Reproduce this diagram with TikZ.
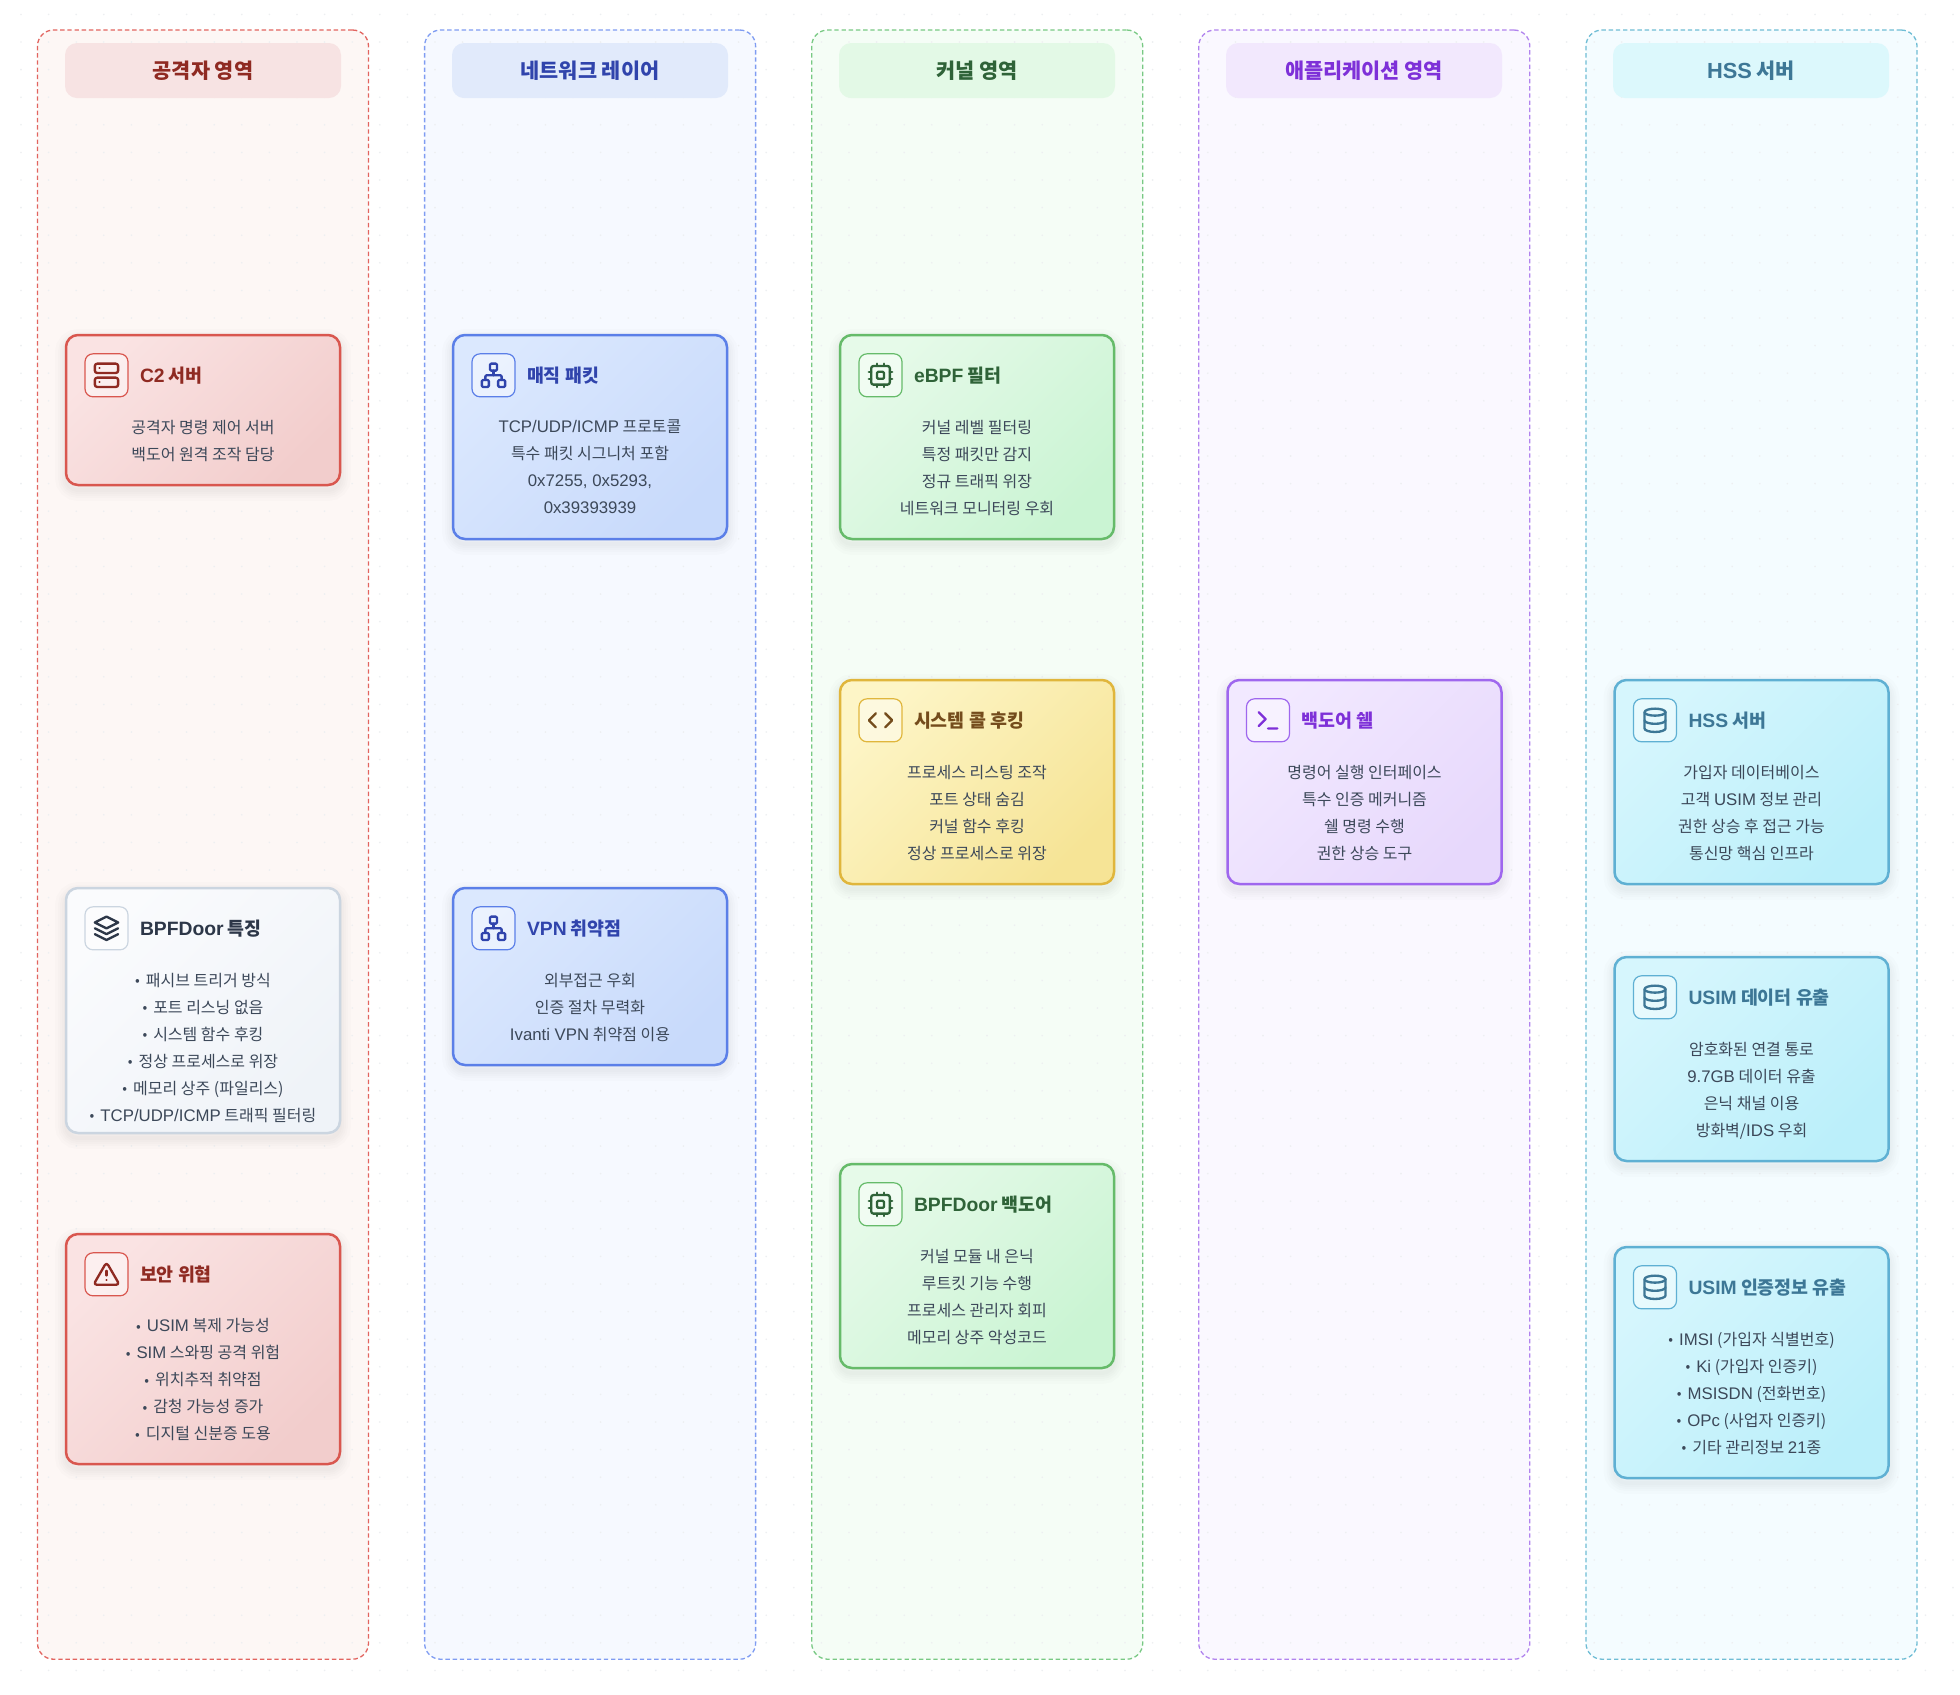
\documentclass[tikz,border=0pt]{standalone}
\usepackage{fontspec}
\setmainfont{Noto Sans CJK KR}
\newfontfamily\latn[Scale=1.05]{Liberation Sans}
\newcommand{\bu}{{\fontsize{7}{8}\selectfont\raisebox{.2pt}{•}}\hspace{1.2pt} }
\usetikzlibrary{positioning}
\pgfdeclarelayer{background layer}
\pgfsetlayers{background layer,main}
\definecolor{griddot}{HTML}{EDEFF1}
\definecolor{bodyink}{HTML}{3C4859}
\definecolor{redlane}{HTML}{E2645F}
\definecolor{redback}{HTML}{FDF7F5}
\definecolor{redhead}{HTML}{F7E3E3}
\definecolor{redline}{HTML}{D9574F}
\definecolor{redink}{HTML}{8F2A22}
\definecolor{redlight}{HTML}{FAE3E3}
\definecolor{reddark}{HTML}{F2CDCC}
\definecolor{bluelane}{HTML}{7F9CF2}
\definecolor{blueback}{HTML}{F6F9FF}
\definecolor{bluehead}{HTML}{E1EAFB}
\definecolor{blueline}{HTML}{5B7FE8}
\definecolor{blueink}{HTML}{3044AC}
\definecolor{bluelight}{HTML}{DBE8FE}
\definecolor{bluedark}{HTML}{C8DAFB}
\definecolor{greenlane}{HTML}{78C983}
\definecolor{greenback}{HTML}{F5FDF6}
\definecolor{greenhead}{HTML}{E3F9E6}
\definecolor{greenline}{HTML}{66BB6A}
\definecolor{greenink}{HTML}{2F6338}
\definecolor{greenlight}{HTML}{E6FAE9}
\definecolor{greendark}{HTML}{CAF4D3}
\definecolor{purplelane}{HTML}{B183EE}
\definecolor{purpleback}{HTML}{FAF8FF}
\definecolor{purplehead}{HTML}{F2E8FD}
\definecolor{purpleline}{HTML}{9F67EE}
\definecolor{purpleink}{HTML}{7E30D8}
\definecolor{purplelight}{HTML}{F2E9FF}
\definecolor{purpledark}{HTML}{E7D8FC}
\definecolor{teallane}{HTML}{6FBDD5}
\definecolor{tealback}{HTML}{F4FCFF}
\definecolor{tealhead}{HTML}{DCF8FC}
\definecolor{tealline}{HTML}{5FB0D3}
\definecolor{tealink}{HTML}{3D7796}
\definecolor{teallight}{HTML}{D6F6FD}
\definecolor{tealdark}{HTML}{BBEFFA}
\definecolor{yellowline}{HTML}{E0B63C}
\definecolor{yellowink}{HTML}{744C1C}
\definecolor{yellowlight}{HTML}{FDF5C6}
\definecolor{yellowdark}{HTML}{F6E496}
\definecolor{grayline}{HTML}{CBD5E0}
\definecolor{grayink}{HTML}{2D3748}
\definecolor{graylight}{HTML}{FAFBFD}
\definecolor{graydark}{HTML}{EFF3F8}
\tikzset{
  iconline/.style={x=.583pt,y=-.583pt,shift={(-12,-12)},line width=1.17pt,line cap=round,line join=round},
  servericon/.pic={
    \draw [iconline,rounded corners=1.17pt] (2,2) rectangle (22,10) (2,14) rectangle (22,22);
    \draw [iconline] (6,6) -- (6.01,6) (6,18) -- (6.01,18);
  },
  networkicon/.pic={
    \draw [iconline,rounded corners=.58pt] (16,16) rectangle (22,22) (2,16) rectangle (8,22) (9,2) rectangle (15,8);
    \draw [iconline,rounded corners=.58pt] (5,16) -- (5,12) -- (19,12) -- (19,16);
    \draw [iconline] (12,12) -- (12,8);
  },
  cpuicon/.pic={
    \draw [iconline,rounded corners=1.17pt] (4,4) rectangle (20,20);
    \draw [iconline,rounded corners=.58pt] (9,9) rectangle (15,15);
    \draw [iconline] (9,2) -- (9,4) (15,2) -- (15,4) (9,20) -- (9,22) (15,20) -- (15,22)
      (2,9) -- (4,9) (2,15) -- (4,15) (20,9) -- (22,9) (20,15) -- (22,15);
  },
  codeicon/.pic={
    \draw [iconline] (16,18) -- (22,12) -- (16,6) (8,6) -- (2,12) -- (8,18);
  },
  shellicon/.pic={
    \draw [iconline] (4,17) -- (10,11) -- (4,5) (12,19) -- (20,19);
  },
  dbicon/.pic={
    \draw [iconline] (12,5) ellipse [x radius=9,y radius=3];
    \draw [iconline] (3,5) -- (3,19) arc [start angle=180,end angle=0,x radius=9,y radius=3] -- (21,5);
    \draw [iconline] (3,12) arc [start angle=180,end angle=0,x radius=9,y radius=3];
  },
  layersicon/.pic={
    \draw [iconline] (12,2) -- (2,7) -- (12,12) -- (22,7) -- cycle;
    \draw [iconline] (2,17) -- (12,22) -- (22,17) (2,12) -- (12,17) -- (22,12);
  },
  alerticon/.pic={
    \draw [iconline,rounded corners=1.7pt] (12,1.6) -- (23.2,21) -- (.8,21) -- cycle;
    \draw [iconline] (12,9) -- (12,13) (12,17) -- (12.01,17);
  },
}
\begin{document}
\begin{tikzpicture}[x=.5pt,y=-.5pt]
\tikzstyle{lane}=[rectangle,rounded corners=8pt,line width=.65pt,dash pattern=on 2.2pt off 1.4pt,anchor=north west,minimum width=165.5pt,minimum height=814.6pt,outer sep=0pt]
\tikzstyle{headbox}=[rectangle,rounded corners=6pt,anchor=north west,minimum width=138pt,minimum height=27.5pt,outer sep=0pt,inner sep=0pt,font=\fontsize{10.4}{12}\selectfont\bfseries]
\tikzstyle{softshadow}=[preaction={draw=black,draw opacity=.012,line width=2pt,transform canvas={yshift=-2.5pt}},
  preaction={draw=black,draw opacity=.012,line width=4pt,transform canvas={yshift=-2.5pt}},
  preaction={draw=black,draw opacity=.012,line width=6pt,transform canvas={yshift=-2.5pt}},
  preaction={draw=black,draw opacity=.012,line width=8pt,transform canvas={yshift=-2.5pt}},
  preaction={draw=black,draw opacity=.01,line width=11pt,transform canvas={yshift=-2.5pt}}]
\tikzstyle{card}=[rectangle,rounded corners=6pt,line width=1.25pt,anchor=north west,minimum width=137pt,outer sep=0pt,softshadow]
\tikzstyle{redcard}=[card,draw=redline,top color=redlight,bottom color=reddark,shading angle=45]
\tikzstyle{bluecard}=[card,draw=blueline,top color=bluelight,bottom color=bluedark,shading angle=45]
\tikzstyle{greencard}=[card,draw=greenline,top color=greenlight,bottom color=greendark,shading angle=45]
\tikzstyle{yellowcard}=[card,draw=yellowline,top color=yellowlight,bottom color=yellowdark,shading angle=45]
\tikzstyle{purplecard}=[card,draw=purpleline,top color=purplelight,bottom color=purpledark,shading angle=45]
\tikzstyle{tealcard}=[card,draw=tealline,top color=teallight,bottom color=tealdark,shading angle=45]
\tikzstyle{graycard}=[card,draw=grayline,top color=graylight,bottom color=graydark,shading angle=45]
\tikzstyle{iconbox}=[rectangle,rounded corners=4pt,line width=.6pt,minimum size=21.5pt,inner sep=0pt,outer sep=0pt,fill=white,fill opacity=.45]
\tikzstyle{cardtitle}=[inner sep=0pt,outer sep=0pt,font=\fontsize{9.2}{11}\selectfont\bfseries]
\tikzstyle{cardtext}=[inner sep=0pt,outer sep=0pt,align=center,text=bodyink,font=\fontsize{8}{13.5}\selectfont,execute at begin node=\rule{0pt}{9pt}]
\tikzstyle{griddots}=[griddot,line width=.9pt,line cap=round,dash pattern=on 0pt off 13.8pt]

\useasboundingbox (0,0) rectangle (1960,1694);
\begin{pgfonlayer}{background layer}
\fill [white] (0,0) rectangle (1960,1694);
\node [lane,draw=redlane,fill=redback] at (37.5,30) (redcol) {};
\node [lane,draw=bluelane,fill=blueback] at (424.6,30) (bluecol) {};
\node [lane,draw=greenlane,fill=greenback] at (811.7,30) (greencol) {};
\node [lane,draw=purplelane,fill=purpleback] at (1198.8,30) (purplecol) {};
\node [lane,draw=teallane,fill=tealback] at (1586,30) (tealcol) {};
\foreach \j in {0,...,60} {\draw [griddots] (-6.6,14.4+27.6*\j) -- (1960,14.4+27.6*\j);}
\end{pgfonlayer}

\node [headbox,fill=redhead,text=redink] at (65,43) (redtop) {공격자 영역};
\node [headbox,fill=bluehead,text=blueink] at (452,43) (bluetop) {네트워크 레이어};
\node [headbox,fill=greenhead,text=greenink] at (839,43) (greentop) {커널 영역};
\node [headbox,fill=purplehead,text=purpleink] at (1226,43) (purpletop) {애플리케이션 영역};
\node [headbox,fill=tealhead,text=tealink] at (1613,43) (tealtop) {{\latn HSS} 서버};

% attacker
\node [redcard,minimum height=75pt] at (66,335) (c2) {};
\node [iconbox,draw=redline,below right=9.4pt and 9.5pt of c2.north west] (c2icon) {};
\pic [color=redink] at (c2icon) {servericon};
\node [cardtitle,text=redink,right=6pt of c2icon] (c2title) {{\latn C2} 서버};
\node [cardtext,below=42.5pt of c2.north] (c2text) {공격자 명령 제어 서버\\백도어 원격 조작 담당};

\node [graycard,minimum height=122.5pt] at (66,888) (trait) {};
\node [iconbox,draw=grayline,below right=9.4pt and 9.5pt of trait.north west] (traiticon) {};
\pic [color=grayink] at (traiticon) {layersicon};
\node [cardtitle,text=grayink,right=6pt of traiticon] (traittitle) {{\latn BPFDoor} 특징};
\node [cardtext,below=42.5pt of trait.north] (traittext) {\bu 패시브 트리거 방식\\\bu 포트 리스닝 없음\\\bu 시스템 함수 후킹\\\bu 정상 프로세스로 위장\\\bu 메모리 상주 (파일리스)\\\bu {\latn TCP/UDP/ICMP} 트래픽 필터링};

\node [redcard,minimum height=115pt] at (66,1234) (threat) {};
\node [iconbox,draw=redline,below right=9.4pt and 9.5pt of threat.north west] (threaticon) {};
\pic [color=redink] at (threaticon) {alerticon};
\node [cardtitle,text=redink,right=6pt of threaticon] (threattitle) {보안 위협};
\node [cardtext,below=42.2pt of threat.north] (threattext) {\bu {\latn USIM} 복제 가능성\\\bu {\latn SIM} 스와핑 공격 위험\\\bu 위치추적 취약점\\\bu 감청 가능성 증가\\\bu 디지털 신분증 도용};

% network
\node [bluecard,minimum height=102pt] at (453,335) (magic) {};
\node [iconbox,draw=blueline,below right=9.4pt and 9.5pt of magic.north west] (magicicon) {};
\pic [color=blueink] at (magicicon) {networkicon};
\node [cardtitle,text=blueink,right=6pt of magicicon] (magictitle) {매직 패킷};
\node [cardtext,below=42.5pt of magic.north] (magictext) {{\latn TCP/UDP/ICMP} 프로토콜\\특수 패킷 시그니처 포함\\{\latn 0x7255, 0x5293,}\\{\latn 0x39393939}};

\node [bluecard,minimum height=88.5pt] at (453,888) (vpn) {};
\node [iconbox,draw=blueline,below right=9.4pt and 9.5pt of vpn.north west] (vpnicon) {};
\pic [color=blueink] at (vpnicon) {networkicon};
\node [cardtitle,text=blueink,right=6pt of vpnicon] (vpntitle) {{\latn VPN} 취약점};
\node [cardtext,below=42.5pt of vpn.north] (vpntext) {외부접근 우회\\인증 절차 무력화\\{\latn Ivanti VPN} 취약점 이용};

% kernel
\node [greencard,minimum height=102pt] at (840,335) (ebpf) {};
\node [iconbox,draw=greenline,below right=9.4pt and 9.5pt of ebpf.north west] (ebpficon) {};
\pic [color=greenink] at (ebpficon) {cpuicon};
\node [cardtitle,text=greenink,right=6pt of ebpficon] (ebpftitle) {{\latn eBPF} 필터};
\node [cardtext,below=42.5pt of ebpf.north] (ebpftext) {커널 레벨 필터링\\특정 패킷만 감지\\정규 트래픽 위장\\네트워크 모니터링 우회};

\node [yellowcard,minimum height=102pt] at (840,680) (hook) {};
\node [iconbox,draw=yellowline,below right=9.4pt and 9.5pt of hook.north west] (hookicon) {};
\pic [color=yellowink] at (hookicon) {codeicon};
\node [cardtitle,text=yellowink,right=6pt of hookicon] (hooktitle) {시스템 콜 후킹};
\node [cardtext,below=42.5pt of hook.north] (hooktext) {프로세스 리스팅 조작\\포트 상태 숨김\\커널 함수 후킹\\정상 프로세스로 위장};

\node [greencard,minimum height=102pt] at (840,1164) (door) {};
\node [iconbox,draw=greenline,below right=9.4pt and 9.5pt of door.north west] (dooricon) {};
\pic [color=greenink] at (dooricon) {cpuicon};
\node [cardtitle,text=greenink,right=6pt of dooricon] (doortitle) {{\latn BPFDoor} 백도어};
\node [cardtext,below=42.5pt of door.north] (doortext) {커널 모듈 내 은닉\\루트킷 기능 수행\\프로세스 관리자 회피\\메모리 상주 악성코드};

% application
\node [purplecard,minimum height=102pt] at (1227.5,680) (shell) {};
\node [iconbox,draw=purpleline,below right=9.4pt and 9.5pt of shell.north west] (shellbox) {};
\pic [color=purpleink] at (shellbox) {shellicon};
\node [cardtitle,text=purpleink,right=6pt of shellbox] (shelltitle) {백도어 쉘};
\node [cardtext,below=42.5pt of shell.north] (shelltext) {명령어 실행 인터페이스\\특수 인증 메커니즘\\쉘 명령 수행\\권한 상승 도구};

% hss
\node [tealcard,minimum height=102pt] at (1614.5,680) (hss) {};
\node [iconbox,draw=tealline,below right=9.4pt and 9.5pt of hss.north west] (hssicon) {};
\pic [color=tealink] at (hssicon) {dbicon};
\node [cardtitle,text=tealink,right=6pt of hssicon] (hsstitle) {{\latn HSS} 서버};
\node [cardtext,below=42.5pt of hss.north] (hsstext) {가입자 데이터베이스\\고객 {\latn USIM} 정보 관리\\권한 상승 후 접근 가능\\통신망 핵심 인프라};

\node [tealcard,minimum height=102pt] at (1614.5,957) (leak) {};
\node [iconbox,draw=tealline,below right=9.4pt and 9.5pt of leak.north west] (leakicon) {};
\pic [color=tealink] at (leakicon) {dbicon};
\node [cardtitle,text=tealink,right=6pt of leakicon] (leaktitle) {{\latn USIM} 데이터 유출};
\node [cardtext,below=42.5pt of leak.north] (leaktext) {암호화된 연결 통로\\{\latn 9.7GB} 데이터 유출\\은닉 채널 이용\\방화벽/{\latn IDS} 우회};

\node [tealcard,minimum height=115.5pt] at (1614.5,1247) (cred) {};
\node [iconbox,draw=tealline,below right=9.4pt and 9.5pt of cred.north west] (credicon) {};
\pic [color=tealink] at (credicon) {dbicon};
\node [cardtitle,text=tealink,right=6pt of credicon] (credtitle) {{\latn USIM} 인증정보 유출};
\node [cardtext,below=42.5pt of cred.north] (credtext) {\bu {\latn IMSI} (가입자 식별번호)\\\bu {\latn Ki} (가입자 인증키)\\\bu {\latn MSISDN} (전화번호)\\\bu {\latn OPc} (사업자 인증키)\\\bu 기타 관리정보 {\latn 21}종};
\end{tikzpicture}
\end{document}
